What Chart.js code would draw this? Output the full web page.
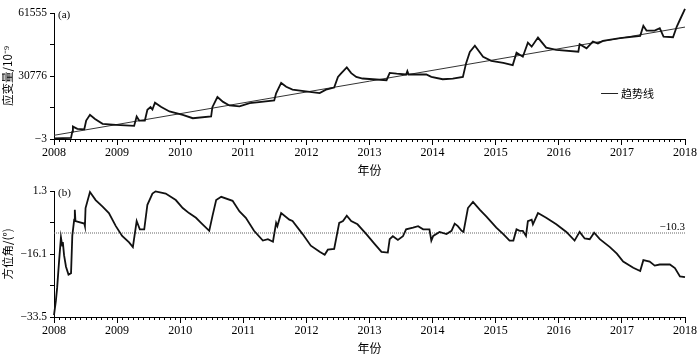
<!DOCTYPE html>
<html><head><meta charset="utf-8">
<script src="https://cdn.jsdelivr.net/npm/chart.js@4.4.1/dist/chart.umd.min.js"></script>
<style>
html,body{margin:0;padding:0;background:#fff;width:700px;height:356px;overflow:hidden}
.box{position:absolute;left:0;width:700px;height:178px}
#b1{top:0}#b2{top:178px}
</style></head><body>
<div class="box" id="b1"><canvas id="c1"></canvas></div>
<div class="box" id="b2"><canvas id="c2"></canvas></div>
<script>
// ---------- data ----------
const xYears = [2008,2009,2010,2011,2012,2013,2014,2015,2016,2017,2018];

const strainYears = [2008.00,2008.27,2008.29,2008.30,2008.37,2008.48,2008.51,2008.57,2008.65,2008.77,
  2008.98,2009.27,2009.31,2009.35,2009.44,2009.48,2009.53,2009.56,2009.60,2009.70,
  2009.83,2010.04,2010.20,2010.49,2010.51,2010.59,2010.68,2010.78,2010.94,2011.10,
  2011.25,2011.49,2011.52,2011.60,2011.68,2011.78,2011.99,2012.21,2012.31,2012.44,
  2012.50,2012.55,2012.64,2012.71,2012.79,2012.89,2013.27,2013.32,2013.43,2013.58,
  2013.60,2013.62,2013.90,2013.98,2014.16,2014.32,2014.48,2014.53,2014.59,2014.67,
  2014.80,2014.93,2015.12,2015.27,2015.33,2015.43,2015.51,2015.57,2015.67,2015.80,
  2015.96,2016.31,2016.33,2016.44,2016.54,2016.62,2016.70,2016.97,2017.29,2017.34,
  2017.39,2017.52,2017.60,2017.66,2017.81,2017.87,2017.92,2018.00];
const strainValues = [300,490,3600,6060,4930,4730,9010,11820,9750,7390,
  6900,6400,10980,9010,9010,14280,15560,14430,17730,15660,
  13450,11820,10150,10980,15560,20490,18120,16400,15910,17530,
  18030,18860,22310,27380,25510,24130,23300,22460,24130,25120,
  30340,32010,34970,32160,30340,29550,28710,32310,31910,31520,
  33150,31520,31520,30340,29200,29450,30340,36940,42500,45610,
  40190,38220,37230,36100,42160,40190,47080,45110,49550,44620,
  43490,42650,46300,44330,47570,46690,47920,49250,50380,55310,
  52990,52990,54180,50040,49740,54960,58260,63530];

const trendYears = [2008, 2018];
const trendValues = [1800, 54670];
const trendLabel = '趋势线';

const strainTicks = [-3, 15386.5, 30776, 46165.5, 61555];
const strainLabelled = [-3, 30776, 61555];

const azimuthYears = [2008.00,2008.03,2008.05,2008.08,2008.11,2008.13,2008.14,2008.16,2008.19,2008.23,
  2008.27,2008.29,2008.32,2008.33,2008.34,2008.48,2008.49,2008.50,2008.57,2008.66,
  2008.77,2008.87,2008.98,2009.08,2009.19,2009.25,2009.31,2009.36,2009.43,2009.48,
  2009.56,2009.61,2009.77,2009.93,2010.04,2010.14,2010.25,2010.33,2010.46,2010.51,
  2010.57,2010.65,2010.83,2010.94,2011.04,2011.17,2011.31,2011.39,2011.47,2011.52,
  2011.54,2011.60,2011.73,2011.78,2011.94,2012.07,2012.21,2012.29,2012.34,2012.44,
  2012.52,2012.58,2012.64,2012.71,2012.81,2012.95,2013.08,2013.19,2013.29,2013.32,
  2013.37,2013.45,2013.53,2013.58,2013.69,2013.77,2013.85,2013.95,2013.98,2014.01,
  2014.11,2014.22,2014.30,2014.35,2014.40,2014.46,2014.49,2014.56,2014.64,2014.75,
  2014.85,2015.01,2015.12,2015.22,2015.28,2015.33,2015.38,2015.43,2015.48,2015.51,
  2015.57,2015.59,2015.67,2015.80,2015.96,2016.12,2016.25,2016.33,2016.41,2016.49,
  2016.56,2016.65,2016.81,2016.92,2017.02,2017.18,2017.29,2017.34,2017.44,2017.52,
  2017.60,2017.76,2017.84,2017.92,2018.00];
const azimuthValues = [-33.0,-29.0,-25.4,-18.2,-11.5,-13.8,-12.8,-16.5,-19.6,-21.8,
  -21.4,-11.1,-6.6,-3.9,-7.0,-7.7,-8.4,-3.4,1.0,-1.2,
  -3.0,-4.8,-8.4,-11.1,-12.9,-14.2,-7.0,-9.3,-9.3,-2.5,
  0.6,1.2,0.6,-1.2,-3.4,-4.8,-6.1,-7.5,-9.7,-5.7,
  -1.2,-0.3,-1.4,-4.35,-6.1,-9.7,-12.4,-12.0,-12.7,-7.5,
  -8.4,-4.8,-6.6,-7.0,-10.6,-13.8,-15.5,-16.3,-14.9,-14.7,
  -7.5,-7.0,-5.5,-7.0,-7.9,-10.6,-13.3,-15.5,-15.7,-12.0,
  -11.2,-12.2,-11.2,-9.3,-8.8,-8.4,-9.3,-9.3,-12.4,-11.1,
  -10.0,-10.6,-9.7,-7.7,-8.4,-9.7,-10.0,-3.4,-1.7,-3.9,
  -5.7,-8.8,-10.6,-12.4,-12.4,-9.3,-9.7,-9.7,-11.1,-7.0,
  -6.6,-7.9,-4.8,-6.1,-7.9,-10.0,-12.4,-10.0,-11.8,-12.0,
  -10.2,-12.0,-14.2,-16.0,-18.2,-19.9,-20.8,-17.8,-18.2,-19.3,
  -19.0,-19.0,-20.0,-22.3,-22.5];

const refValue = -10.3;
const azimuthTicks = [-33.5, -24.8, -16.1, -7.4, 1.3];
const azimuthLabelled = [-33.5, -16.1, 1.3];

// ---------- helpers ----------
const SERIF = "'Liberation Serif','Times New Roman',serif";
const CJK = "'Noto Sans CJK SC','Liberation Serif',serif";
const toXY = (xs, ys) => xs.map((x, i) => ({x, y: ys[i]}));
const fmt = v => (v < 0 ? '\u2212' + String(Math.abs(v)) : String(v));

const minorTicks = {
  id: 'minorTicks',
  afterDraw(chart) {
    const xs = chart.scales.x, ctx = chart.ctx;
    ctx.save();
    ctx.strokeStyle = '#000'; ctx.lineWidth = 1;
    ctx.beginPath();
    for (let y = xYears[0]; y < xYears[xYears.length - 1]; y++) {
      for (let m = 1; m < 12; m++) {
        const px = Math.round(xs.getPixelForValue(y + m / 12)) + 0.5;
        ctx.moveTo(px, xs.top); ctx.lineTo(px, xs.top + 3);
      }
    }
    ctx.stroke();
    ctx.restore();
  }
};

function panelLabel(text) {
  return {
    id: 'panel' + text,
    afterDraw(chart) {
      const ctx = chart.ctx, a = chart.chartArea;
      ctx.save();
      ctx.font = '11px ' + SERIF; ctx.fillStyle = '#000';
      ctx.textAlign = 'left'; ctx.textBaseline = 'middle';
      ctx.fillText(text, a.left + 4, a.top + 2);
      ctx.restore();
    }
  };
}

const trendLegend = {
  id: 'trendLegend',
  afterDraw(chart) {
    const ctx = chart.ctx;
    const xs = chart.scales.x, ys = chart.scales.y;
    const x0 = xs.getPixelForValue(2016.67), y0 = ys.getPixelForValue(22300);
    ctx.save();
    ctx.strokeStyle = '#222'; ctx.lineWidth = 1;
    ctx.beginPath(); ctx.moveTo(x0, Math.round(y0) + 0.5); ctx.lineTo(x0 + 17, Math.round(y0) + 0.5); ctx.stroke();
    ctx.font = '11px ' + CJK; ctx.fillStyle = '#000';
    ctx.textAlign = 'left'; ctx.textBaseline = 'middle';
    ctx.fillText(trendLabel, x0 + 20, y0);
    ctx.restore();
  }
};

const refLabel = {
  id: 'refLabel',
  afterDraw(chart) {
    const ctx = chart.ctx, a = chart.chartArea, ys = chart.scales.y;
    const py = ys.getPixelForValue(refValue);
    ctx.save();
    ctx.font = '11px ' + SERIF; ctx.fillStyle = '#000';
    ctx.textAlign = 'right'; ctx.textBaseline = 'alphabetic';
    ctx.fillText(fmt(refValue), a.right, py - 3);
    ctx.restore();
  }
};

function xScale() {
  return {
    type: 'linear', min: 2008, max: 2018,
    afterBuildTicks: s => { s.ticks = xYears.map(v => ({value: v})); },
    afterFit: s => { s.height = 39; },
    grid: {drawOnChartArea: false, drawTicks: true, tickLength: 6, color: '#000', lineWidth: 1},
    border: {display: true, color: '#000', width: 1},
    ticks: {color: '#000', font: {family: SERIF, size: 12}, padding: 1, maxRotation: 0,
      callback: v => String(v)},
    title: {display: true, text: '年份', color: '#000', font: {family: CJK, size: 12}, padding: {top: 0, bottom: 0}}
  };
}

function yScale(min, max, ticks, labelled, title) {
  return {
    type: 'linear', min, max,
    afterBuildTicks: s => { s.ticks = ticks.map(v => ({value: v})); },
    afterFit: s => { s.width = 54; },
    grid: {drawOnChartArea: false, drawTicks: true, tickLength: 4, color: '#000', lineWidth: 1},
    border: {display: true, color: '#000', width: 1},
    ticks: {color: '#000', font: {family: SERIF, size: 11.5}, padding: 3,
      callback: v => labelled.includes(v) ? fmt(v) : ''},
    title: {display: true, text: title, color: '#000', font: {family: CJK, size: 11.5}, padding: {top: 1, bottom: 0}}
  };
}

const common = {
  responsive: true, maintainAspectRatio: false, animation: false,
  plugins: {legend: {display: false}, tooltip: {enabled: false}},
  elements: {point: {radius: 0}, line: {tension: 0}}
};

new Chart(document.getElementById('c1'), {
  type: 'line',
  data: {datasets: [
    {data: toXY(strainYears, strainValues), borderColor: '#111', borderWidth: 1.8, clip: false},
    {label: trendLabel, data: toXY(trendYears, trendValues), borderColor: '#333', borderWidth: 1}
  ]},
  options: Object.assign({}, common, {
    layout: {padding: {left: 0, right: 15, top: 13, bottom: 0}},
    scales: {x: xScale(), y: yScale(-3, 61555, strainTicks, strainLabelled, '应变量/10⁻⁹')}
  }),
  plugins: [minorTicks, panelLabel('(a)'), trendLegend]
});

new Chart(document.getElementById('c2'), {
  type: 'line',
  data: {datasets: [
    {data: toXY(azimuthYears, azimuthValues), borderColor: '#111', borderWidth: 1.8, clip: false},
    {data: toXY([2008, 2018], [refValue, refValue]), borderColor: '#666', borderWidth: 1, borderDash: [1, 1]}
  ]},
  options: Object.assign({}, common, {
    layout: {padding: {left: 0, right: 15, top: 13, bottom: 0}},
    scales: {x: xScale(), y: yScale(-33.5, 1.3, azimuthTicks, azimuthLabelled, '方位角/(°)')}
  }),
  plugins: [minorTicks, panelLabel('(b)'), refLabel]
});
</script>
</body></html>
